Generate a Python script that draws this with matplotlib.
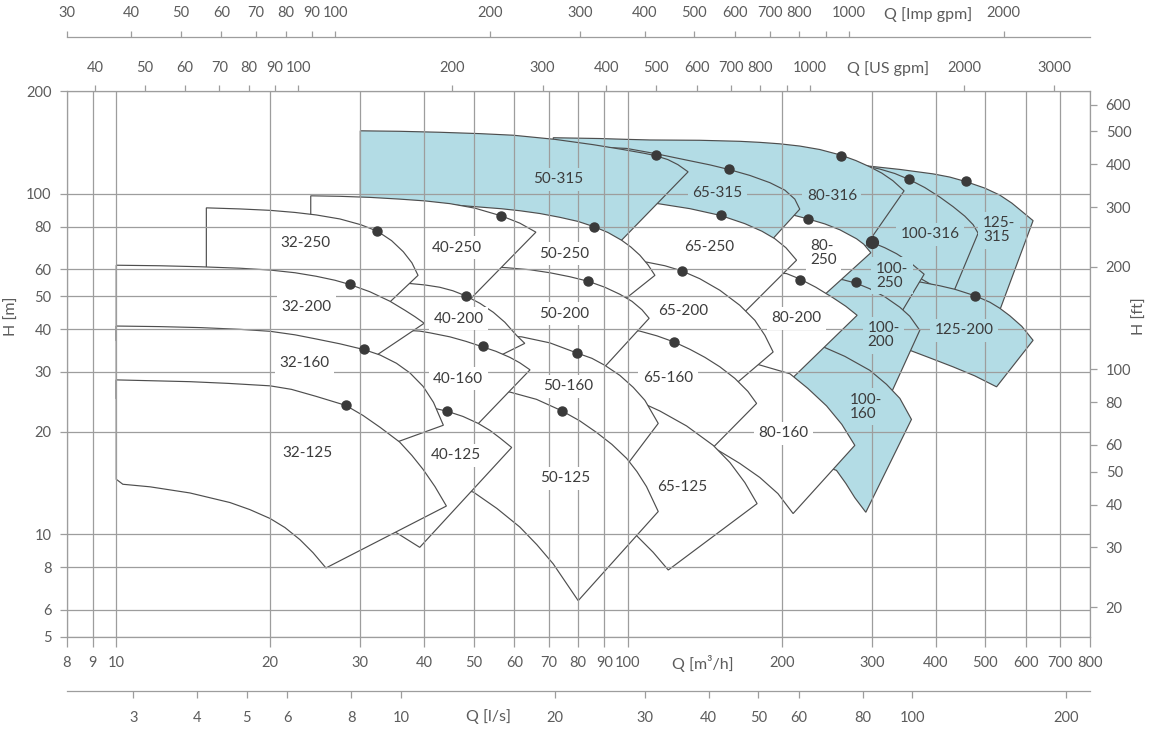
import matplotlib
matplotlib.use("Agg")
import matplotlib.pyplot as plt
from matplotlib.patches import Polygon
from matplotlib.ticker import FixedLocator, NullLocator, FixedFormatter

plt.rcParams['font.family'] = ['Lato', 'DejaVu Sans']

# ---------------- axis tick values ----------------
Q_TICKS = [8, 9, 10, 20, 30, 40, 50, 60, 70, 80, 90, 100, 200, 300, 400, 500, 600, 700, 800]
H_TICKS = [5, 6, 8, 10, 20, 30, 40, 50, 60, 80, 100, 200]
FT_TICKS = [20, 30, 40, 50, 60, 80, 100, 200, 300, 400, 500, 600]
USGPM_TICKS = [40, 50, 60, 70, 80, 90, 100, 200, 300, 400, 500, 600, 700, 800, 900, 1000, 2000, 3000]
USGPM_LABELS = ['40', '50', '60', '70', '80', '90', '100', '200', '300', '400', '500', '600', '700', '800', '', '1000', '2000', '3000']
IMP_TICKS = [30, 40, 50, 60, 70, 80, 90, 100, 200, 300, 400, 500, 600, 700, 800, 900, 1000, 2000]
IMP_LABELS = ['30', '40', '50', '60', '70', '80', '90', '100', '200', '300', '400', '500', '600', '700', '800', '', '1000', '2000']
LS_TICKS = [3, 4, 5, 6, 8, 10, 20, 30, 40, 50, 60, 80, 100, 200]

M3H_TO_USGPM = 4.402868
M3H_TO_LS = 1 / 3.6
M_TO_FT = 3.28084
IMP_RANGE = (30, 2940)

# ---------------- pump ranges (Q m3/h, H m) ----------------
# tq/th: max-impeller curve left->right ; bq/bh: min-impeller curve left->right (last point = lower right corner)
P125_315 = dict(tq=[200, 293, 340.4, 395.4, 426.2, 458.1, 499.0, 533.8, 563.5, 592.0, 620.0],
                th=[128, 120.8, 117.9, 114.4, 111.96, 108.6, 103.9, 99.1, 93.88, 88.32, 83.38],
                bq=[200, 400, 526.6], bh=[60, 50, 43.1])
P100_316 = dict(tq=[150, 250, 293, 311.0, 332.7, 354.8, 380.8, 407.4, 432.5, 456.0, 473.3, 484.1],
                th=[125, 123, 120.6, 118.2, 114.7, 110.2, 104.3, 97.8, 91.66, 85.94, 81.16, 76.6],
                bq=[150, 300, 430], bh=[72, 68, 50])
P125_200 = dict(tq=[200, 300, 372.3, 407.4, 435.9, 477.6, 510.5, 533.8, 558.4, 589.3, 620],
                th=[58, 56.5, 55.08, 53.68, 52.42, 50.16, 48.02, 46.1, 43.82, 40.8, 37.12],
                bq=[200, 300, 355.9, 389.5, 432.5, 477.0, 526], bh=[38, 36, 34.7, 32.96, 31.02, 29.18, 27.1])
P100_250 = dict(tq=[150, 250, 284.3, 299.6, 318.1, 335.3, 355.9, 379.7],
                th=[80, 75, 73.54, 72.06, 69.42, 66.68, 62.96, 58.04],
                bq=[150, 250, 337.3], bh=[50, 47, 43.1])
P100_200 = dict(tq=[150, 230, 263.7, 280.0, 297.3, 318.1, 340.4, 355.9, 372.3],
                th=[59, 57.5, 55.9, 54.58, 52.6, 49.82, 46.42, 43.68, 39.72],
                bq=[150, 250, 322.4], bh=[30, 28, 24.7])
P100_160 = dict(tq=[150, 241, 265.7, 297.3, 320.5, 340.4, 358.6],
                th=[36.5, 35.52, 33.3, 30.3, 27.56, 25.06, 21.74],
                bq=[150, 200, 255.9, 266.9, 277.9, 292], bh=[20, 17.5, 15.4, 14.1, 12.8, 11.6])
P80_316 = dict(tq=[71.5, 88.2, 99.5, 110.5, 138.3, 165.6, 181.2, 198.3, 216.9, 237.4, 261.0, 279.2, 297.3, 313.8, 329.7, 346.9],
               th=[146.1, 145.3, 144.5, 143.9, 143.6, 142.6, 141.6, 140.2, 138.1, 134.9, 129.9, 125.2, 120.0, 115.0, 109.3, 102.0],
               bq=[71.5, 150, 220, 281.8], bh=[100, 90, 80, 65.1])
P80_250 = dict(tq=[71.5, 150, 210.5, 224.6, 242.9, 259.8, 280, 289.3, 298.7],
               th=[95, 90, 86.6, 84.44, 81.54, 78.38, 73.78, 71.1, 67.12],
               bq=[71.5, 150, 239.6], bh=[60, 56, 49.7])
P80_200 = dict(tq=[71.5, 150, 204.3, 216.9, 233.2, 252.0, 266.9, 280.8],
               th=[62, 60, 58.3, 56.22, 53.14, 49.48, 46.72, 43.96],
               bq=[71.5, 150, 190, 205.6], bh=[36, 31, 28.5, 27.9])
P80_160 = dict(tq=[71.5, 150, 180, 207.5, 224.9, 244.7, 262.1, 277.9],
               th=[33, 33, 31.5, 29.6, 26.82, 23.82, 21.02, 18.24],
               bq=[71.5, 146.9, 165.6, 181.2, 196.6, 210.5], bh=[19, 18.0, 16.14, 14.68, 13.16, 11.5])
P65_315 = dict(tq=[60, 80, 99.5, 113.0, 130.3, 144.7, 157.9, 173.3, 189.6, 202.8, 212.1, 216.9],
               th=[145, 138, 135.9, 131.3, 125.6, 121.6, 117.8, 113.2, 107.8, 102.5, 96.46, 90.12],
               bq=[60, 113.8, 150, 187.9], bh=[95, 90, 84, 71.1])
P65_250 = dict(tq=[60, 90, 113.8, 132.3, 151.9, 169.4, 182.9, 193.9, 203.8, 213.8],
               th=[97, 95.5, 93.7, 90.42, 86.36, 81.7, 77.64, 73.78, 69.42, 63.82],
               bq=[60, 108.8, 150, 164.1], bh=[62, 58, 48, 42.9])
P65_200 = dict(tq=[60, 90, 108.8, 118.2, 127.4, 138.3, 151.4, 165.6, 177.2, 185.4, 192.4],
               th=[66, 64.5, 63.0, 61.46, 59.4, 56.3, 52.06, 47.04, 42.5, 38.38, 34.3],
               bq=[60, 105.6, 140, 160.5], bh=[39, 37.5, 31, 27.2])
P65_160 = dict(tq=[60, 90, 105.6, 114.0, 123.2, 132.3, 141.5, 151.4, 161.9, 171.7, 178.6],
               th=[41.5, 41, 39.5, 38.26, 36.7, 34.92, 33.08, 31.02, 28.7, 26.28, 24.22],
               bq=[60, 100, 141.5], bh=[19, 19, 17.0])
P65_125 = dict(tq=[60, 80, 104, 115.5, 130.3, 146.9, 158.4, 169.4, 179.0],
               th=[25.5, 25.2, 24.74, 23.02, 20.8, 18.24, 16.24, 14.18, 12.3],
               bq=[60, 80, 104, 112.1, 120], bh=[13, 12, 9.91, 8.85, 7.85])
P50_315 = dict(tq=[30, 35.8, 42.9, 51.39, 59.7, 72.03, 85.6, 98.7, 108.0, 113.3, 119.8, 125.3, 131.2],
               th=[153.1, 152.6, 151.6, 150.2, 148.6, 144.5, 139.4, 134.6, 131.4, 129.4, 126.0, 121.8, 116.0],
               bq=[30, 60, 80, 93.1], bh=[85, 80, 74, 68.3])
P50_250 = dict(tq=[30, 40.12, 47.62, 56.6, 61.5, 67.33, 73.7, 79.9, 86.0, 91.43, 97.3, 101.4, 105.6, 109.5, 113.0],
               th=[96.72, 94.33, 92.24, 90.38, 89.17, 87.5, 85.27, 82.96, 80.0, 76.98, 73.0, 69.76, 66.0, 61.88, 57.6],
               bq=[30, 60, 80, 96.5], bh=[55, 50, 48.5, 47.7])
P50_200 = dict(tq=[30, 45, 57.9, 64.4, 70.42, 77.05, 83.7, 90.2, 96.5, 101.9, 106.6, 110.1],
               th=[63, 62, 60.66, 59.82, 58.62, 57.06, 55.34, 53.14, 50.68, 48.32, 45.64, 43.08],
               bq=[30, 60, 80, 87.4], bh=[44, 37, 33, 29.5])
P50_160 = dict(tq=[30, 45, 62, 70.42, 79.4, 85.1, 90.2, 96.5, 102.5, 108.0, 114.7],
               th=[39.5, 39, 38.0, 36.48, 34.1, 32.86, 31.34, 29.28, 27.0, 24.74, 21.16],
               bq=[30, 60, 80, 96.5], bh=[22, 21, 19, 15.0])
P50_125 = dict(tq=[40, 50, 58.8, 66.3, 74.4, 80.6, 86.9, 93.1, 99.5, 104.2, 108.8, 114.7],
               th=[26.5, 26.4, 26.16, 24.9, 23.02, 21.52, 19.9, 18.36, 16.7, 15.28, 13.8, 11.66],
               bq=[40, 49.9, 55.5, 61.5, 66.4, 71.5, 80], bh=[14.5, 13.3, 11.9, 10.5, 9.32, 8.18, 6.38])
P40_250 = dict(tq=[24, 27.37, 31.33, 35.8, 40.12, 44.9, 50.24, 56.6, 61.5, 66.13],
               th=[98.64, 98.3, 97.6, 96.46, 95.3, 93.55, 90.74, 86.12, 82.0, 77.14],
               bq=[24, 35, 43, 48], bh=[62, 57, 50, 47.2])
P40_200 = dict(tq=[24, 30, 37.5, 40.12, 42.9, 45.5, 48.2, 51.39, 54.6, 57.5, 60.6, 62.9],
               th=[57, 56.2, 54.5, 53.98, 53.14, 51.9, 50.16, 47.68, 44.86, 41.94, 38.38, 36.36],
               bq=[24, 40, 50, 55], bh=[38, 37, 34.5, 32.9])
P40_160 = dict(tq=[24, 30, 39.2, 41.05, 44.9, 48.26, 52.0, 55.23, 58.8, 61.5, 64.4],
               th=[41, 40.5, 39.5, 39.04, 38.0, 36.86, 35.52, 34.46, 33.08, 31.88, 30.4],
               bq=[24, 40, 49.1], bh=[24, 22.5, 19.9])
P40_125 = dict(tq=[24, 30, 39.2, 41.98, 44.4, 47.62, 51.0, 53.77, 56.23, 59.3],
               th=[24.5, 24.3, 23.9, 23.42, 22.96, 22.18, 21.16, 20.18, 19.18, 17.98],
               bq=[24, 30, 35.3, 39.2], bh=[12.2, 11.2, 10.1, 9.15])
P32_250 = dict(tq=[15, 17.45, 19.99, 22.36, 24.6, 27.37, 30.05, 32.4, 34.54, 36.4, 37.84, 38.9],
               th=[90.92, 90.26, 89.4, 88.14, 86.66, 84.34, 81.14, 77.64, 72.82, 67.58, 62.7, 57.6],
               bq=[15, 25, 32.8], bh=[56, 53, 45.2])
P32_200 = dict(tq=[10, 12.17, 14.58, 17.45, 19.99, 22.36, 24.6, 26.76, 28.6, 31.33, 34.3, 36.67, 38.37, 40.0],
               th=[61.68, 61.46, 61.05, 60.44, 59.7, 58.62, 57.24, 55.72, 54.16, 51.54, 48.32, 45.48, 43.54, 41.66],
               bq=[10, 20, 27, 30.6], bh=[37, 36, 34, 31.8])
P32_160 = dict(tq=[10, 12.17, 14.58, 17.45, 19.99, 22.36, 24.6, 27.37, 30.5, 32.8, 35.3, 37.5, 39.8, 41.7, 43.6],
               th=[40.88, 40.72, 40.45, 39.98, 39.45, 38.52, 37.45, 36.25, 34.86, 33.6, 31.78, 29.78, 27.18, 24.4, 20.9],
               bq=[10, 20, 30, 32.8], bh=[25, 24, 21, 17.9])
P32_125 = dict(tq=[10, 13.93, 16.53, 19.99, 22.0, 24.6, 28.1, 30.35, 32.8, 35.8, 37.84, 39.8, 41.98, 44.2],
               th=[28.4, 28.06, 27.74, 27.28, 26.64, 25.40, 23.9, 22.34, 20.6, 18.66, 17.04, 15.5, 13.8, 12.1],
               bq=[10, 10.3, 11.64, 13.93, 16.68, 18.25, 19.99, 21.37, 22.86, 24.24, 25.7],
               bh=[14.5, 14.02, 13.78, 13.22, 12.39, 11.81, 11.12, 10.46, 9.64, 8.83, 7.96])

# drawing order (first = lowest): label, data, blue fill?
REGIONS = [
    ('125-\n315', P125_315, True), ('100-316', P100_316, True), ('125-200', P125_200, True),
    ('100-\n250', P100_250, True), ('100-\n200', P100_200, True), ('100-\n160', P100_160, True),
    ('80-316', P80_316, True), ('80-\n250', P80_250, False), ('80-200', P80_200, False), ('80-160', P80_160, False),
    ('65-315', P65_315, True), ('65-250', P65_250, False), ('65-200', P65_200, False), ('65-160', P65_160, False), ('65-125', P65_125, False),
    ('50-315', P50_315, True), ('50-250', P50_250, False), ('50-200', P50_200, False), ('50-160', P50_160, False), ('50-125', P50_125, False),
    ('40-250', P40_250, False), ('40-200', P40_200, False), ('40-160', P40_160, False), ('40-125', P40_125, False),
    ('32-250', P32_250, False), ('32-200', P32_200, False), ('32-160', P32_160, False), ('32-125', P32_125, False),
]

# label anchor positions (Q, H), same order as REGIONS
LABEL_Q = [532.2, 389.5, 454.3, 328.9, 316.4, 291.7, 250.6, 241.4, 213.8, 201.3,
           149.8, 144.1, 128.3, 119.8, 128.0, 73.2, 75.26, 75.1, 76.45, 75.6,
           46.27, 46.7, 46.6, 46.1, 23.4, 23.56, 23.37, 23.66]
LABEL_H = [78.2, 76.0, 39.7, 57.4, 38.4, 23.7, 98.6, 66.8, 43.1, 19.8,
           100.8, 69.8, 45.2, 28.8, 13.74, 110.4, 66.7, 44.4, 27.2, 14.6,
           69.4, 43.0, 28.6, 17.04, 71.8, 46.5, 31.9, 17.32]

# best efficiency points
BEP_Q = [32.4, 28.6, 30.5, 28.1, 56.6, 48.2, 52.0, 44.4, 113.3, 86.0, 83.7, 79.4, 74.4,
         157.9, 151.9, 127.4, 123.2, 261.0, 224.6, 216.9, 354.8, 280.0, 458.1, 477.6]
BEP_H = [77.6, 54.2, 34.9, 23.9, 86.1, 50.0, 35.6, 23.0, 129.9, 80.0, 55.5, 34.1, 23.0,
         118.2, 86.6, 59.4, 36.7, 129.4, 84.4, 56.0, 110.2, 54.9, 108.9, 50.0]
# 100-250 best efficiency point (drawn slightly larger in the original)
BEP_100_250_Q = [299.6]
BEP_100_250_H = [72.2]

# ---------------- styling ----------------
W, Hpx = 1149, 729
GRID = '#9d9d9d'
TXT = '#5c5c5c'
LAB = '#3c3c3c'
EDGE = '#4e4e4e'
BLUE = '#b3dce5'
WHITE = '#ffffff'
DOT = '#3a3a3a'

fig = plt.figure(figsize=(W / 100, Hpx / 100), dpi=100)
fig.patch.set_facecolor('white')

L, R, T, B = 66.7, 1089.7, 91.3, 636.7
ax = fig.add_axes([L / W, 1 - B / Hpx, (R - L) / W, (B - T) / Hpx])
ax.set_xscale('log')
ax.set_yscale('log')
ax.set_xlim(8, 800)
ax.set_ylim(5, 200)

ax.xaxis.set_major_locator(FixedLocator(Q_TICKS))
ax.xaxis.set_major_formatter(FixedFormatter([str(v) for v in Q_TICKS]))
ax.xaxis.set_minor_locator(NullLocator())
ax.yaxis.set_major_locator(FixedLocator(H_TICKS))
ax.yaxis.set_major_formatter(FixedFormatter([str(v) for v in H_TICKS]))
ax.yaxis.set_minor_locator(NullLocator())
ax.tick_params(axis='x', direction='out', length=7, width=0.9, color=GRID,
               labelsize=10.5, labelcolor=TXT, pad=7)
ax.tick_params(axis='y', direction='out', length=5, width=0.9, color=GRID,
               labelsize=10.5, labelcolor=TXT, pad=6)
ax.grid(True, which='major', color=GRID, lw=0.9)
ax.set_axisbelow(False)
for s in ax.spines.values():
    s.set_color(GRID)
    s.set_linewidth(0.9)

for i, (name, d, blue) in enumerate(REGIONS):
    verts = list(zip(d['tq'], d['th'])) + list(zip(d['bq'][::-1], d['bh'][::-1]))
    poly = Polygon(verts, closed=True, facecolor=BLUE if blue else WHITE,
                   edgecolor=EDGE, lw=0.85, joinstyle='miter', zorder=1 + i * 0.01)
    ax.add_patch(poly)

for i, (name, d, blue) in enumerate(REGIONS):
    ax.text(LABEL_Q[i], LABEL_H[i], name, ha='center', va='center', fontsize=11,
            color=LAB, multialignment='left', linespacing=1.0, zorder=5,
            bbox=dict(boxstyle='square,pad=0.3', fc=BLUE if blue else WHITE, ec='none'))

ax.plot(BEP_Q, BEP_H, 'o', ms=6.5, color=DOT, mec=DOT, zorder=6, clip_on=False)
ax.plot(BEP_100_250_Q, BEP_100_250_H, 'o', ms=8.5, color=DOT, mec=DOT, zorder=6, clip_on=False)

# right axis: H [ft]
axr = ax.twinx()
axr.set_yscale('log')
axr.set_ylim(5 * M_TO_FT, 200 * M_TO_FT)
axr.yaxis.set_major_locator(FixedLocator(FT_TICKS))
axr.yaxis.set_major_formatter(FixedFormatter([str(v) for v in FT_TICKS]))
axr.yaxis.set_minor_locator(NullLocator())
axr.tick_params(axis='y', direction='out', length=5, width=0.9, color=GRID,
                labelsize=10.5, labelcolor=TXT, pad=6.5)
for s in axr.spines.values():
    s.set_visible(False)

# top axis: US gpm
axt = ax.twiny()
axt.set_xscale('log')
axt.set_xlim(8 * M3H_TO_USGPM, 800 * M3H_TO_USGPM)
axt.xaxis.set_major_locator(FixedLocator(USGPM_TICKS))
axt.xaxis.set_major_formatter(FixedFormatter(USGPM_LABELS))
axt.xaxis.set_minor_locator(NullLocator())
axt.tick_params(axis='x', direction='out', length=4.5, width=0.9, color=GRID,
                labelsize=10.5, labelcolor=TXT, pad=7)
for s in axt.spines.values():
    s.set_visible(False)

# Imp gpm axis (separate line above)
axi = fig.add_axes([L / W, 1 - 37 / Hpx, (R - L) / W, 0.0001])
axi.set_xscale('log')
axi.set_xlim(*IMP_RANGE)
axi.patch.set_visible(False)
axi.yaxis.set_visible(False)
axi.xaxis.tick_top()
axi.xaxis.set_major_locator(FixedLocator(IMP_TICKS))
axi.xaxis.set_major_formatter(FixedFormatter(IMP_LABELS))
axi.xaxis.set_minor_locator(NullLocator())
axi.tick_params(axis='x', direction='out', length=4.5, width=0.9, color=GRID,
                labelsize=10.5, labelcolor=TXT, pad=7.5)
for k, s in axi.spines.items():
    s.set_visible(k == 'top')
    s.set_color(GRID)
    s.set_linewidth(0.9)

# l/s axis (separate line below)
axl = fig.add_axes([L / W, 1 - 691.3 / Hpx, (R - L) / W, 0.0001])
axl.set_xscale('log')
axl.set_xlim(8 * M3H_TO_LS, 800 * M3H_TO_LS)
axl.patch.set_visible(False)
axl.yaxis.set_visible(False)
axl.xaxis.set_major_locator(FixedLocator(LS_TICKS))
axl.xaxis.set_major_formatter(FixedFormatter([str(v) for v in LS_TICKS]))
axl.xaxis.set_minor_locator(NullLocator())
axl.tick_params(axis='x', direction='out', length=5, width=0.9, color=GRID,
                labelsize=10.5, labelcolor=TXT, pad=9)
for k, s in axl.spines.items():
    s.set_visible(k == 'bottom')
    s.set_color(GRID)
    s.set_linewidth(0.9)

# axis titles
fig.text(928 / W, 1 - 15 / Hpx, 'Q [Imp gpm]', ha='center', va='center', fontsize=11.5, color=TXT)
fig.text(888 / W, 1 - 69 / Hpx, 'Q [US gpm]', ha='center', va='center', fontsize=11.5, color=TXT)
fig.text(703 / W, 1 - 663 / Hpx, 'Q [m³/h]', ha='center', va='center', fontsize=11.5, color=TXT)
fig.text(489 / W, 1 - 717 / Hpx, 'Q [l/s]', ha='center', va='center', fontsize=11.5, color=TXT)
fig.text(12 / W, 1 - 316 / Hpx, 'H [m]', ha='center', va='center', rotation=90, fontsize=11.5, color=TXT)
fig.text(1140 / W, 1 - 316 / Hpx, 'H [ft]', ha='center', va='center', rotation=90, fontsize=11.5, color=TXT)

fig.savefig('out.png', dpi=100, facecolor='white')
